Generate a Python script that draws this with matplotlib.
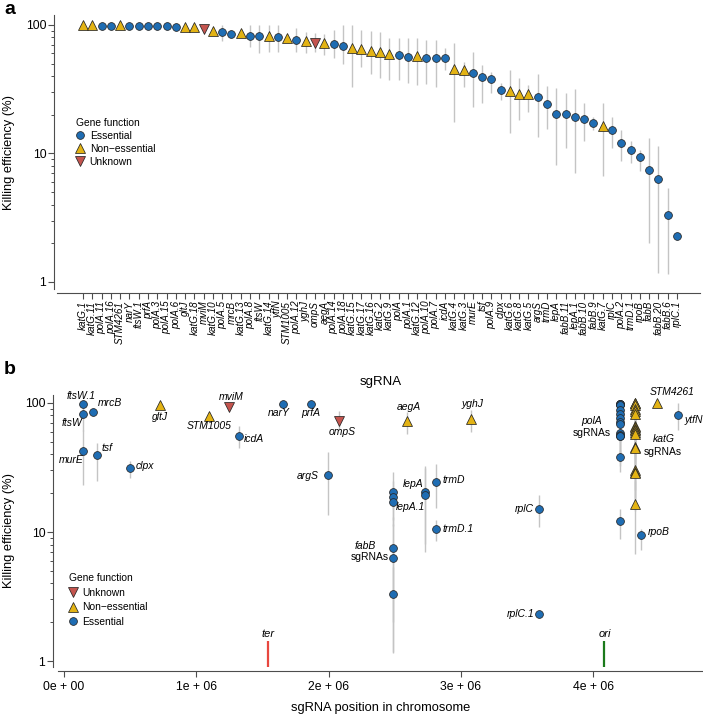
import numpy as np
import matplotlib.pyplot as plt
from matplotlib.lines import Line2D
from matplotlib.ticker import FixedLocator, NullFormatter

plt.rcParams['font.family'] = ['Liberation Sans', 'DejaVu Sans']

# === DATA ===
sgrna = ["katG.1", "katG.11", "polA.11", "polA.16", "STM4261", "narY", "ftsW.1", "prfA",
         "polA.3", "polA.15", "polA.6", "gltJ", "katG.18", "mviM", "katG.10", "polA.5",
         "mrcB", "katG.13", "polA.8", "ftsW", "katG.14", "ytfN", "STM1005", "polA.12",
         "yghJ", "ompS", "aegA", "polA.14", "polA.18", "katG.15", "katG.17", "katG.16",
         "katG.2", "katG.9", "polA", "polA.1", "katG.12", "polA.10", "polA.7", "icdA",
         "katG.4", "katG.3", "murE", "tsf", "polA.9", "clpx", "katG.6", "katG.8",
         "katG.5", "argS", "trmD", "lepA", "fabB.11", "lepA.1", "fabB.10", "fabB.9",
         "katG.7", "rplC", "polA.2", "trmD.1", "rpoB", "fabB", "fabB.20", "fabB.6", "rplC.1"]

# E = essential, N = non-essential, U = unknown
function = ["N", "N", "E", "E", "N", "E", "E", "E", "E", "E", "E", "N", "N", "U", "N", "E",
            "E", "N", "E", "E", "N", "E", "N", "E", "N", "U", "N", "E", "E", "N", "N", "N",
            "N", "N", "E", "E", "N", "E", "E", "E", "N", "N", "E", "E", "E", "E", "N", "N",
            "N", "E", "E", "E", "E", "E", "E", "E", "N", "E", "E", "E", "E", "E", "E", "E", "E"]

efficiency = [100, 100, 99, 99, 100, 99, 99, 99, 99, 98.5, 96.5, 97, 97, 92.5, 90.5, 87.7,
              85.6, 86, 82.6, 82.6, 82, 80, 78.8, 76, 74.6, 72.8, 73, 70.8, 68.3, 65.9, 64.7, 62.8,
              61.3, 59.5, 58.4, 56.6, 57.4, 55.7, 55.1, 55.1, 45.5, 44.4, 42.3, 39.6, 38.2, 31.4,
              30.4, 29.0, 28.9, 27.5, 24.4, 20.4, 20.3, 19.2, 18.7, 17.2, 16.4, 15.2, 12.1, 10.6,
              9.4, 7.5, 6.3, 3.3, 2.3]

nan = np.nan
err_low = [nan, nan, nan, nan, nan, nan, nan, nan, nan, nan, nan, nan, nan, nan, nan, 75,
           nan, nan, 68, 61, 62, 62, nan, 62, 60, 62, 58, 55, 50, 32.7, 47, 41.6,
           38.5, 37.3, 37.3, 35.2, 34.1, 34.8, 32.7, 44.7, 17.7, 32.7, 23.1, 24.8, 29.4, 26.1,
           14.5, 18.3, 21.1, 13.5, 15.4, 8.1, 11.1, 7.0, 12.5, 15.2, 6.7, 11.0, 8.8, 8.5,
           7.3, 2.0, 1.18, 1.15, nan]
err_high = [nan, nan, nan, nan, nan, nan, nan, nan, nan, nan, nan, nan, nan, nan, nan, 100,
            nan, nan, 100, 100, 100, 100, nan, 95, 88, 86, 85, 91, 100, 100, 92, 90,
            88, 78.8, 78.8, 78.8, 78.8, 76.4, 76.4, 65.9, 72.8, 51.9, 62.0, 48.9, 43.4, 35.2,
            44.7, 38.5, 34.1, 41.6, 33.5, 32.2, 29.4, 31.6, 24.8, 19.3, 24.8, 19.3, 15.2, 12.4,
            10.6, 13.1, 11.5, 5.4, nan]

# chromosome position of each gene (bp)
genes = ["ftsW", "murE", "mrcB", "tsf", "clpx", "gltJ", "STM1005", "mviM", "icdA", "narY",
         "prfA", "argS", "ompS", "fabB", "aegA", "lepA", "trmD", "yghJ", "rplC", "polA",
         "katG", "rpoB", "STM4261", "ytfN"]
gene_position = [0.145e6, 0.141e6, 0.217e6, 0.249e6, 0.499e6, 0.726e6, 1.094e6, 1.25e6,
                 1.32e6, 1.658e6, 1.869e6, 1.998e6, 2.076e6, 2.484e6, 2.59e6, 2.73e6,
                 2.81e6, 3.076e6, 3.593e6, 4.203e6, 4.314e6, 4.361e6, 4.48e6, 4.643e6]

landmarks = ["ter", "ori"]
landmark_position = [1.54e6, 4.085e6]
landmark_colors = ["#e8473f", "#1b7a1b"]

# === STYLE ===
styles = {
    "E": dict(label="Essential", marker="o", ms=5.6, mfc="#1f6db3"),
    "N": dict(label="Non\u2212essential", marker="^", ms=6.8, mfc="#e3b314"),
    "U": dict(label="Unknown", marker="v", ms=6.8, mfc="#c4544e"),
}
edge = "#262626"
bar_color = "#c4c4c4"
axis_color = "#4d4d4d"

eff = np.array(efficiency)
lo = np.array(err_low)
hi = np.array(err_high)
func = np.array(function)
pos_lookup = dict(zip(genes, gene_position))
chrom_pos = np.array([pos_lookup[s.split(".")[0]] for s in sgrna])
idx = np.arange(1, len(sgrna) + 1)
has_bar = ~np.isnan(lo)

fig = plt.figure(figsize=(7.03, 7.15), dpi=100)


def style_log_axis(ax):
    ax.set_yscale("log")
    ax.yaxis.set_major_locator(FixedLocator([1, 10, 100]))
    ax.set_yticklabels(["1", "10", "100"])
    minors = [m * 10 ** e for e in (0, 1) for m in range(2, 10)]
    ax.yaxis.set_minor_locator(FixedLocator(minors))
    ax.yaxis.set_minor_formatter(NullFormatter())
    for s in ["top", "right"]:
        ax.spines[s].set_visible(False)
    for s in ["left", "bottom"]:
        ax.spines[s].set_color(axis_color)
        ax.spines[s].set_linewidth(0.8)
    ax.tick_params(which="major", length=4, width=0.8, color=axis_color, labelsize=8.8, pad=1.5)
    ax.tick_params(which="minor", length=2.3, width=0.7, color=axis_color)
    ax.set_ylabel("Killing efficiency (%)", fontsize=9.3)


def draw_points(ax, xs):
    ax.vlines(xs[has_bar], lo[has_bar], hi[has_bar], color=bar_color, lw=1.0, zorder=1)
    for key, st in styles.items():
        m = func == key
        ax.plot(xs[m], eff[m], ls="none", marker=st["marker"], ms=st["ms"],
                mfc=st["mfc"], mec=edge, mew=0.55, zorder=3)


def legend_handles(order):
    return [Line2D([], [], ls="none", marker=styles[k]["marker"], ms=styles[k]["ms"],
                   mfc=styles[k]["mfc"], mec=edge, mew=0.55, label=styles[k]["label"])
            for k in order]


# === PANEL A ===
ax1 = fig.add_axes([57 / 703, 1 - 289 / 715, 643 / 703, 274 / 715])
style_log_axis(ax1)
ax1.spines["left"].set_position(("outward", 2.2))
ax1.spines["bottom"].set_position(("outward", 2.9))
ax1.set_ylim(0.882, 119.6)
ax1.set_xlim(-1.8, 67.48)
draw_points(ax1, idx)
ax1.set_xticks(idx)
ax1.set_xticklabels(sgrna, rotation=90, fontsize=7.1, style="italic", va="top")
ax1.tick_params(axis="x", length=4, pad=1.5)
ax1.yaxis.set_label_coords(-0.065, 0.5)

leg1 = ax1.legend(handles=legend_handles(["E", "N", "U"]), title="Gene function",
                  loc="upper left", bbox_to_anchor=(0.03, 0.625), frameon=False,
                  fontsize=7.4, title_fontsize=7.4, handlelength=0.8, handletextpad=0.5,
                  labelspacing=0.3, borderaxespad=0, borderpad=0, alignment="left")

# === PANEL B ===
ax2 = fig.add_axes([58 / 703, 1 - 667 / 715, 645 / 703, 272 / 715])
style_log_axis(ax2)
ax2.spines["left"].set_position(("outward", 3.6))
ax2.spines["bottom"].set_position(("outward", 2.9))
ax2.set_ylim(0.899, 115.3)
ax2.set_xlim(-0.0454e6, 4.83e6)
ax2.set_xticks([0, 1e6, 2e6, 3e6, 4e6])


def r_sci(v):
    if v == 0:
        return "0e + 00"
    e = int(np.floor(np.log10(v)))
    return f"{v / 10 ** e:g}e + {e:02d}"


ax2.set_xticklabels([r_sci(v) for v in ax2.get_xticks()])
ax2.tick_params(axis="x", length=4, pad=3)
ax2.set_xlabel("sgRNA position in chromosome", fontsize=9.3)
ax2.xaxis.set_label_coords(0.5, -0.128)
ax2.yaxis.set_label_coords(-0.0667, 0.5)
ax2.set_title("sgRNA", fontsize=9.5, pad=7)

draw_points(ax2, chrom_pos)

# ter / ori marks
for name, p, c in zip(landmarks, landmark_position, landmark_colors):
    ax2.vlines(p, 0.5, 1.43, color=c, lw=1.6, zorder=2, clip_on=True)
    ax2.annotate(name, (p, 1.43), xytext=(0, 7), textcoords="offset pixels",
                 ha="center", va="center", fontsize=8, style="italic")

# point labels: (text, sgRNA it belongs to, dx, dy in pixels, alignment, italic)
point_labels = [
    ("ftsW.1", "ftsW.1", -2, 8, "center", True),
    ("ftsW", "ftsW", -11.5, -9, "center", True),
    ("mrcB", "mrcB", 17, 9, "center", True),
    ("murE", "murE", -11, -9, "center", True),
    ("tsf", "tsf", 10.5, 7, "center", True),
    ("clpx", "clpx", 6, 2, "left", True),
    ("gltJ", "gltJ", 0, -12, "center", True),
    ("STM1005", "STM1005", 0, -10, "center", True),
    ("mviM", "mviM", 1.5, 10, "center", True),
    ("icdA", "icdA", 5.5, -3, "left", True),
    ("narY", "narY", -5, -9, "center", True),
    ("prfA", "prfA", -1, -9, "center", True),
    ("ompS", "ompS", 4, -11, "center", True),
    ("argS", "argS", -10, -1, "right", True),
    ("aegA", "aegA", 2, 14, "center", True),
    ("yghJ", "yghJ", 1.5, 15, "center", True),
    ("lepA", "lepA", -12.5, 8, "center", True),
    ("lepA.1", "lepA.1", -15, -12, "center", True),
    ("trmD", "trmD", 7, 2.5, "left", True),
    ("trmD.1", "trmD.1", 7, 0, "left", True),
    ("rplC", "rplC", -6, 0, "right", True),
    ("STM4261", "STM4261", 15, 11, "center", True),
    ("ytfN", "ytfN", 6, -4.5, "left", True),
    ("rpoB", "rpoB", 7, 3, "left", True),
    ("rplC.1", "rplC.1", -5, 0, "right", True),
    ("polA", "polA.10", -28, 15, "center", True),
    ("sgRNAs", "polA.10", -28.5, 3, "center", False),
    ("katG", "katG.4", 29, 8, "center", True),
    ("sgRNAs", "katG.4", 28.5, -5, "center", False),
    ("fabB", "fabB", -27, 2, "center", True),
    ("sgRNAs", "fabB", -23, -9, "center", False),
]
for text, anchor, dx, dy, ha, ital in point_labels:
    i = sgrna.index(anchor)
    ax2.annotate(text, (chrom_pos[i], eff[i]), xytext=(dx, dy), textcoords="offset pixels",
                 ha=ha, va="center", fontsize=7.5, style="italic" if ital else "normal",
                 annotation_clip=False)

leg2 = ax2.legend(handles=legend_handles(["U", "N", "E"]), title="Gene function",
                  loc="upper left", bbox_to_anchor=(0.017, 0.345), frameon=False,
                  fontsize=7.4, title_fontsize=7.4, handlelength=0.8, handletextpad=0.5,
                  labelspacing=0.45, borderaxespad=0, borderpad=0, alignment="left")

# panel letters
fig.text(4 / 703, 1 - 9 / 715, "a", fontsize=14, fontweight="bold", va="center", ha="left")
fig.text(4 / 703, 1 - 370 / 715, "b", fontsize=14, fontweight="bold", va="center", ha="left")

fig.savefig("out.png", dpi=100)
